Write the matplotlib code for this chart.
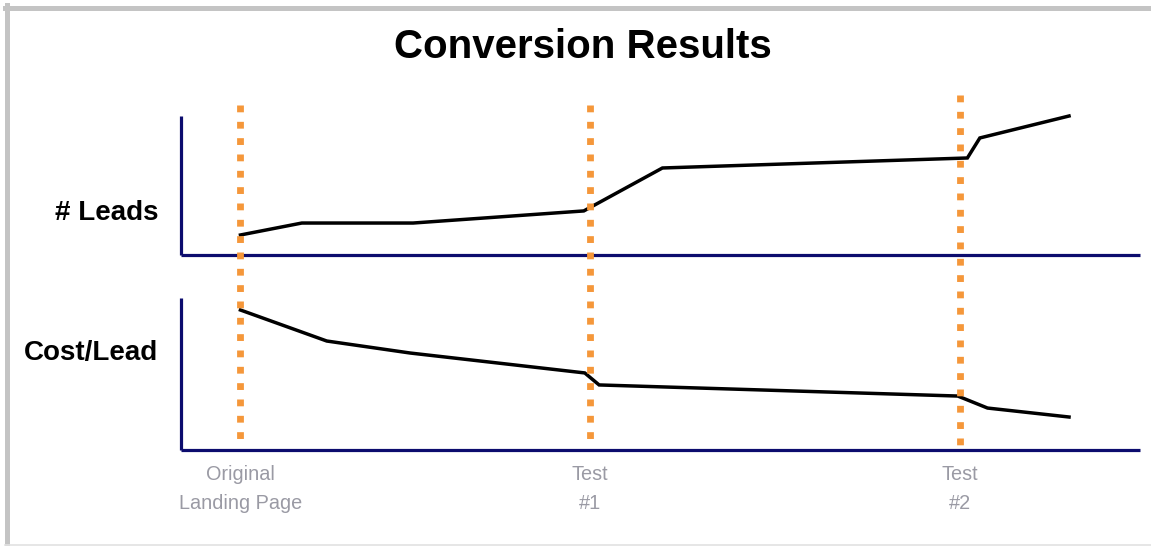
#
#  plot.py
#  Conversion Results: # Leads et Cost/Lead autour des tests de landing page.
#

import matplotlib as mpl
import matplotlib.pyplot as plt
import matplotlib.transforms as mtransforms
from matplotlib.lines import Line2D

mpl.use('Agg')

# ==========
# = Données =
# ==========

# Abscisse: position sur la ligne du temps (0 = axe vertical, 100 = fin)
TESTS: list[float] = [6.2, 42.6, 81.2]
TEST_LABELS: list[str] = ['Original\nLanding Page', 'Test\n#1', 'Test\n#2']

LEADS_X: list[float] = [6.2, 12.6, 24.2, 42.0, 50.2, 82.0, 83.3, 92.6]
LEADS_Y: list[float] = [14.4, 23.0, 23.0, 31.7, 62.6, 69.8, 84.2, 100.0]

COST_X: list[float] = [6.2, 15.2, 23.9, 42.1, 43.6, 81.0, 84.1, 92.6]
COST_Y: list[float] = [92.1, 71.7, 63.8, 50.7, 42.8, 35.5, 27.6, 21.7]

# Couleurs
NAVY: str = '#0c0c6e'
ORANGE: str = '#f5973a'
GRIS: str = '#9a9aa4'

W, H = 1151, 546
DPI = 100

# ==============
# = Graphique =
# ==============

fig = plt.figure(figsize=(W / DPI, H / DPI), dpi=DPI)
fig.patch.set_facecolor('white')


def px_rect(x0, y0, x1, y1):
    # Rectangle en pixels (origine en haut à gauche) -> fractions de figure
    return [x0 / W, 1 - y1 / H, (x1 - x0) / W, (y1 - y0) / H]


ax_leads = fig.add_axes(px_rect(181, 116, 1140, 255))
ax_cost = fig.add_axes(px_rect(181, 298, 1140, 450))

for ax in (ax_leads, ax_cost):
    ax.set_xlim(0, 100)
    ax.set_ylim(0, 100)
    for side in ('top', 'right'):
        ax.spines[side].set_visible(False)
    for side in ('left', 'bottom'):
        ax.spines[side].set_color(NAVY)
        ax.spines[side].set_linewidth(2.3)
        ax.spines[side].set_capstyle('butt')
    ax.set_yticks([])
    ax.patch.set_alpha(0)

ax_leads.set_xticks([])
ax_cost.set_xticks(TESTS, TEST_LABELS)
ax_cost.tick_params(axis='x', length=0, pad=10.5, labelcolor=GRIS,
                    labelsize=14.3)
for lab in ax_cost.get_xticklabels():
    lab.set_family(['Liberation Sans', 'DejaVu Sans'])
    lab.set_linespacing(1.7)

ax_leads.plot(LEADS_X, LEADS_Y, color='black', lw=2.5, clip_on=False,
              solid_joinstyle='miter', zorder=3)
ax_cost.plot(COST_X, COST_Y, color='black', lw=2.5, clip_on=False,
             solid_joinstyle='miter', zorder=3)

# Lignes pointillées orange qui traversent les deux graphiques
trans = mtransforms.blended_transform_factory(ax_cost.transData,
                                              fig.transFigure)
tops = [105, 105, 95]
for x, top in zip(TESTS, tops):
    fig.add_artist(Line2D([x, x], [1 - top / H, 1 - 447 / H],
                          transform=trans, color=ORANGE, lw=4.9,
                          linestyle=(0, (1, 1.4)), dash_capstyle='butt',
                          zorder=5))

# Titres
fig.text(583 / W, 1 - 47 / H, 'Conversion Results', ha='center',
         va='center', fontsize=29, fontweight='bold',
         family=['Liberation Sans', 'DejaVu Sans'])
etiq = ['Liberation Sans Narrow', 'Liberation Sans', 'DejaVu Sans']
fig.text(158 / W, 1 - 213 / H, '# Leads', ha='right', va='center',
         fontsize=20, fontweight='bold', family=etiq)
fig.text(158 / W, 1 - 353 / H, 'Cost/Lead', ha='right', va='center',
         fontsize=20, fontweight='bold', family=etiq)

# Cadre gris
fig.add_artist(Line2D([5 / W, 1], [1 - 7.5 / H, 1 - 7.5 / H],
                      transform=fig.transFigure, color='#c4c4c4', lw=3.6))
fig.add_artist(Line2D([7.5 / W, 7.5 / W], [0, 1 - 5 / H],
                      transform=fig.transFigure, color='#c4c4c4', lw=3.6))
fig.add_artist(Line2D([5 / W, 1], [1.5 / H, 1.5 / H],
                      transform=fig.transFigure, color='#e2e2e2', lw=1.2))

fig.savefig('out.png', dpi=DPI)
